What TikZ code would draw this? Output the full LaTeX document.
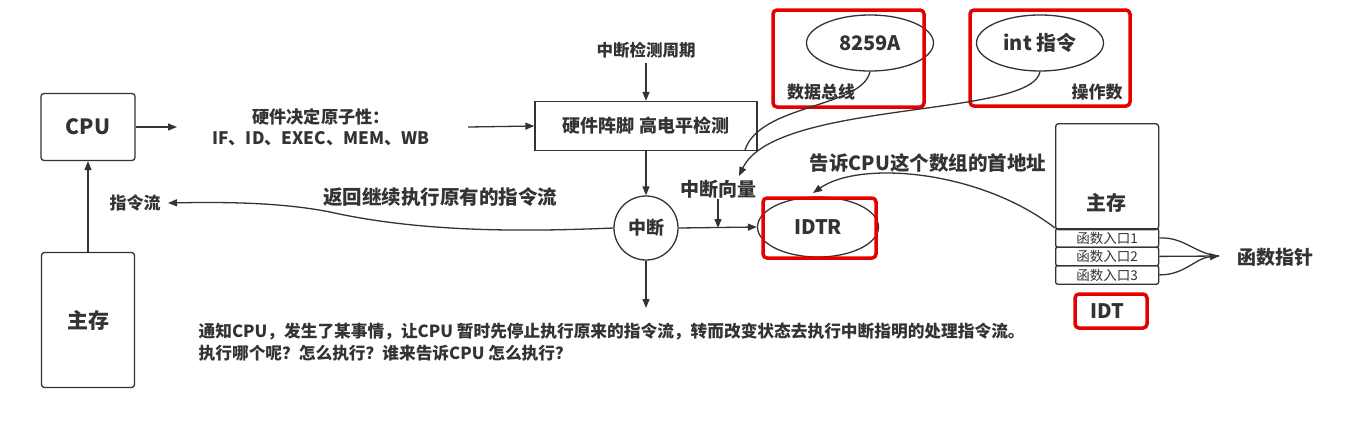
\documentclass[tikz,border=0pt]{standalone}
\usepackage{fontspec}
\setmainfont{Noto Sans CJK SC}
\usetikzlibrary{arrows.meta,shapes.geometric}
\newcommand{\fs}[1]{\fontsize{#1}{#1}\selectfont}
\begin{document}
\begin{tikzpicture}[x=1pt,y=-1pt,
  line width=1.3pt, color={black!80},
  arr/.style={-{Triangle[length=9pt,width=7pt]}},
  box/.style={draw, rounded corners=3pt, font=\bfseries},
  txt/.style={font=\bfseries, inner sep=0pt, text=black!80},
  oval/.style={draw, ellipse, inner sep=0pt, font=\bfseries\fs{20}},
  redbox/.style={draw=red!90!black, line width=3.5pt, rounded corners=4pt},
  row/.style={draw, rounded corners=2pt, minimum width=103pt, minimum height=18.5pt, inner sep=0pt, font=\fs{13.5}, anchor=north west}
]
\useasboundingbox[fill=white] (0,0) rectangle (1371,429);

% CPU and main memory
\node[box, minimum width=94pt, minimum height=67pt, font=\bfseries\fs{21}] (cpu) at (88,127) {CPU};
\node[box, minimum width=93pt, minimum height=135pt, font=\bfseries\fs{21}] (mem) at (88,320) {主存};
\draw[arr] (mem.north) -- (cpu.south);
\node[txt, font=\bfseries\fs{17}] (flow) at (135,203) {指令流};

% atomicity text
\coordinate (cpuout) at (177,127);
\draw[arr] (cpu.east) -- (cpuout);
\node[txt, align=center, font=\bfseries\fontsize{17.2}{21}\selectfont] (atom) at (321,127) {硬件决定原子性：\\IF、ID、EXEC、MEM、WB};

% hardware check box
\node[draw, minimum width=222pt, minimum height=49pt, font=\bfseries\fs{18}] (hw) at (646,126) {硬件阵脚 高电平检测};
\coordinate (hwin) at (468,127);
\draw[arr] (hwin) -- (hw.west);
\node[txt, font=\bfseries\fs{16.5}] (period) at (646,50) {中断检测周期};
\coordinate (pstart) at (646,63);
\draw[arr] (pstart) -- (hw.north);

% interrupt circle
\node[draw, circle, minimum size=64pt, inner sep=0pt, font=\bfseries\fs{18}] (intr) at (646,228) {中断};
\draw[arr] (hw.south) -- (intr.north);
\coordinate (down) at (646,308);
\draw[arr] (intr.south) -- (down);

% return flow
\coordinate (flowend) at (168,203);
\draw[arr] (intr.west) .. controls (520,232) and (420,232) .. (330,212) .. controls (280,202) and (220,202) .. (flowend);
\node[txt, font=\bfseries\fs{19.5}] (ret) at (440,197) {返回继续执行原有的指令流};

% IDTR
\node[oval, minimum width=121pt, minimum height=60pt] (idtr) at (818,227) {IDTR};
\draw[arr] (intr.east) -- (idtr.west);
\node[txt, font=\bfseries\fs{19}] (vec) at (718,189) {中断向量};
\coordinate (vecjoin) at (718,228);
\draw[arr] (vec.south) -- (vecjoin);
\draw[redbox] (763,198) rectangle (876,258);

% 8259A and int
\node[oval, minimum width=127pt, minimum height=56pt] (pic) at (870,43) {8259A};
\node[txt, font=\bfseries\fs{17}] (bus) at (821,92) {数据总线};
\draw[redbox] (773,10) rectangle (924,107);
\node[oval, minimum width=127pt, minimum height=56pt] (intins) at (1040,43) {int 指令};
\node[txt, font=\bfseries\fs{17}] (opnd) at (1097,92) {操作数};
\draw[redbox] (970,10) rectangle (1130,106);
\coordinate (vectip) at (739,176);
\draw (pic.south) .. controls (862,108) and (760,104) .. (745,150);
\draw[arr] (intins.south) .. controls (1032,118) and (775,100) .. (vectip);

% IDT in main memory
\node[draw, rounded corners=3pt, minimum width=103pt, minimum height=106pt, anchor=north west, inner sep=0pt] (idtmem) at (1055,123) {};
\node[txt, font=\bfseries\fs{20}] (idtlab) at (1106,203) {主存};
\node[row] (r1) at (1055,228) {函数入口1};
\node[row] (r2) at (1055,246.5) {函数入口2};
\node[row] (r3) at (1055,265) {函数入口3};
\node[txt, font=\bfseries\fs{20}] (idt) at (1107,311) {IDT};
\draw[redbox] (1075,294) rectangle (1147,328);

\coordinate (idtrtop) at (813,193);
\draw[arr] (r1.north west) .. controls (980,170) and (860,160) .. (idtrtop);

\coordinate (fp) at (1219,256);
\draw (r1.east) .. controls (1185,237) and (1195,254) .. (fp);
\draw (r2.east) -- (fp);
\draw[arr] (r3.east) .. controls (1185,275) and (1195,258) .. (fp);
\node[txt, font=\bfseries\fs{19}] (fpl) at (1275,257) {函数指针};
\node[txt, font=\bfseries\fs{19.5}] (tell) at (928,163) {告诉CPU这个数组的首地址};

% bottom text
\node[txt, align=left, anchor=north west, font=\bfseries\fontsize{16.7}{22}\selectfont] (note) at (198,322) {通知CPU，发生了某事情，让CPU 暂时先停止执行原来的指令流，转而改变状态去执行中断指明的处理指令流。\\执行哪个呢？怎么执行？谁来告诉CPU 怎么执行？};
\end{tikzpicture}
\end{document}
